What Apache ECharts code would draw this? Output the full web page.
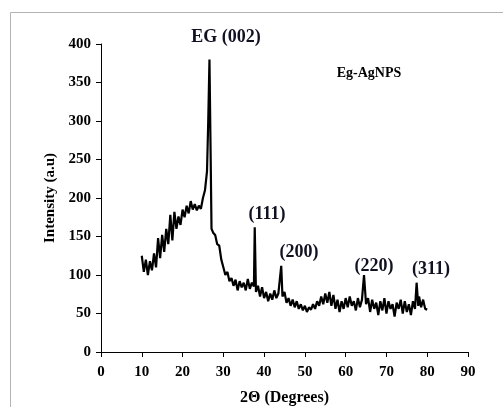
<!DOCTYPE html>
<html>
<head>
<meta charset="utf-8">
<script src="https://cdn.jsdelivr.net/npm/echarts@6/dist/echarts.min.js"></script>
<style>html,body{margin:0;padding:0;background:#fff;}#c{width:503px;height:407px;}</style>
</head>
<body>
<div id="c"></div>
<script>
const twoTheta = [10.0,10.5,11.0,11.5,12.0,12.5,13.0,13.5,14.0,14.5,15.0,15.5,16.0,16.5,17.0,17.5,18.0,18.5,19.0,19.5,20.0,20.5,21.0,21.5,22.0,22.5,23.0,23.5,24.0,24.5,25.0,25.5,26.0,26.3,26.6,26.9,27.1,27.5,28.0,28.5,29.0,29.5,30.0,30.5,31.0,31.5,32.0,32.5,33.0,33.5,34.0,34.5,35.0,35.5,36.0,36.5,37.0,37.5,37.7,38.0,38.5,39.0,39.5,40.0,40.5,41.0,41.5,42.0,42.5,43.0,43.5,44.2,44.5,45.0,45.5,46.0,46.5,47.0,47.5,48.0,48.5,49.0,49.5,50.0,50.5,51.0,51.5,52.0,52.5,53.0,53.5,54.0,54.5,55.0,55.5,56.0,56.5,57.0,57.5,58.0,58.5,59.0,59.5,60.0,60.5,61.0,61.5,62.0,62.5,63.0,63.5,64.0,64.5,65.0,65.5,66.0,66.5,67.0,67.5,68.0,68.5,69.0,69.5,70.0,70.5,71.0,71.5,72.0,72.5,73.0,73.5,74.0,74.5,75.0,75.5,76.0,76.5,77.0,77.4,77.8,78.0,78.5,79.0,79.5,80.0];
const intensity = [125,104,120,100,118,106,128,110,148,122,152,130,160,140,178,145,182,160,176,165,185,175,190,180,196,185,192,184,190,186,200,210,235,300,380,250,160,155,152,140,138,120,110,100,104,92,96,86,94,80,92,84,90,80,95,82,90,85,162,78,86,72,84,70,78,66,76,68,80,70,76,112,72,78,64,70,60,68,58,66,56,62,54,60,52,58,55,62,56,66,60,72,62,76,64,78,60,74,56,68,52,66,56,70,58,72,60,66,54,70,58,68,100,62,70,52,68,56,64,48,66,54,70,50,66,56,62,46,64,56,68,50,66,52,62,48,66,56,90,60,72,58,68,56,55];
const xTicks = [0,10,20,30,40,50,60,70,80,90];
const yTicks = [0,50,100,150,200,250,300,350,400];
const peakLabels = ['EG (002)','(111)','(200)','(220)','(311)'];
const sampleName = 'Eg-AgNPS';

const serif = '"Liberation Serif","DejaVu Serif",serif';
const chart = echarts.init(document.getElementById('c'), null, {renderer:'canvas'});
const data = twoTheta.map((x,i)=>[x,intensity[i]]);
const labelStyle = {fontFamily:serif,fontWeight:'bold',fontSize:18,fill:'#111122'};
chart.setOption({
  animation:false,
  backgroundColor:'#fff',
  grid:{left:101,right:35,top:44,bottom:55,containLabel:false,outerBoundsMode:'none'},
  xAxis:{type:'value',min:xTicks[0],max:xTicks[xTicks.length-1],interval:10,
    name:'2Θ (Degrees)',nameLocation:'middle',nameGap:38,
    nameTextStyle:{fontFamily:serif,fontWeight:'bold',fontSize:16,color:'#000'},
    axisLine:{show:true,onZero:false,lineStyle:{color:'#000',width:1}},
    axisTick:{show:true,length:5,inside:false,lineStyle:{color:'#000'}},
    axisLabel:{fontFamily:serif,fontWeight:'bold',fontSize:15,color:'#000',margin:13},
    splitLine:{show:false}},
  yAxis:{type:'value',min:yTicks[0],max:yTicks[yTicks.length-1],interval:50,
    name:'Intensity (a.u)',nameLocation:'middle',nameGap:38,nameRotate:90,
    nameTextStyle:{fontFamily:serif,fontWeight:'bold',fontSize:15,color:'#000'},
    axisLine:{show:true,onZero:false,lineStyle:{color:'#000',width:1}},
    axisTick:{show:true,length:5,lineStyle:{color:'#000'}},
    axisLabel:{fontFamily:serif,fontWeight:'bold',fontSize:15,color:'#000',margin:10},
    splitLine:{show:false}},
  series:[{type:'line',data:data,symbol:'none',lineStyle:{color:'#000',width:2.2},z:3}],
  graphic:[
    {type:'rect',shape:{x:10.5,y:12.5,width:600,height:500},style:{fill:'none',stroke:'#b4b4b4',lineWidth:1},silent:true},
    {type:'text',x:226,y:37,style:Object.assign({text:peakLabels[0],align:'center',verticalAlign:'middle'},labelStyle)},
    {type:'text',x:267,y:214,style:Object.assign({text:peakLabels[1],align:'center',verticalAlign:'middle'},labelStyle)},
    {type:'text',x:299,y:252,style:Object.assign({text:peakLabels[2],align:'center',verticalAlign:'middle'},labelStyle)},
    {type:'text',x:374,y:266,style:Object.assign({text:peakLabels[3],align:'center',verticalAlign:'middle'},labelStyle)},
    {type:'text',x:431,y:269,style:Object.assign({text:peakLabels[4],align:'center',verticalAlign:'middle'},labelStyle)},
    {type:'text',x:369,y:73,style:{text:sampleName,align:'center',verticalAlign:'middle',fontFamily:serif,fontWeight:'bold',fontSize:14,fill:'#000'}}
  ]
});
</script>
</body>
</html>
